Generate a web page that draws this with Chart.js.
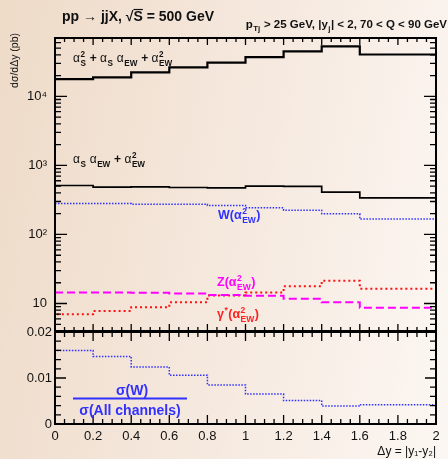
<!DOCTYPE html>
<html>
<head>
<meta charset="utf-8">
<script src="https://cdn.jsdelivr.net/npm/chart.js@4.4.0/dist/chart.umd.min.js"></script>
<style>
html, body { margin: 0; padding: 0; }
body {
  width: 448px; height: 459px; overflow: hidden; position: relative;
  background: linear-gradient(100deg, #eedbc8 0%, #f3e4d7 35%, #f8eee6 70%, #fcf7f3 100%);
}
canvas { position: absolute; left: 0; top: 0; }
</style>
</head>
<body>
<canvas id="top" width="448" height="459"></canvas>
<canvas id="bot" width="448" height="459"></canvas>
<script>
// bin edges in delta y, 10 bins of 0.2
var edges = [0, 0.2, 0.4, 0.6, 0.8, 1.0, 1.2, 1.4, 1.6, 1.8, 2.0];
// d sigma / d delta y (pb)
var allOrders = [17000, 17800, 18800, 22200, 26200, 30700, 37000, 44700, 52800, 40400];
var ewOrders = [500, 512, 484, 489, 479, 473, 501, 496, 410, 339];
var wChannel = [281, 281, 281, 275, 275, 263, 243, 225, 199, 167];
var zChannel = [14.4, 14.4, 14.4, 14.3, 14.0, 13.3, 13.0, 11.7, 10.4, 8.7];
var gammaChannel = [6.3, 7.0, 7.8, 8.8, 10.4, 13.1, 14.4, 17.8, 21.4, 16.4];
// sigma(W) / sigma(all channels)
var wRatio = [0.0169, 0.0160, 0.0147, 0.0124, 0.0106, 0.0085, 0.0065, 0.0051, 0.0039, 0.0042];

var xTicks = [0, 0.2, 0.4, 0.6, 0.8, 1, 1.2, 1.4, 1.6, 1.8, 2];
var logTicks = [10, 100, 1000, 10000];
var logLabels = ['10', '10²', '10³', '10⁴'];
var ratioTicks = [0, 0.01, 0.02];

var FONT = '"Liberation Sans", Arial, Helvetica, sans-serif';
var INK = '#111';
var BLUE = '#3030ff';

function steps(vals) {
  return edges.map(function (e, i) {
    return { x: e, y: vals[Math.min(i, vals.length - 1)] };
  });
}

function fixWidth(s) { s.width = 55; }

// text with ROOT like super/subscripts
function rich(ctx, x, y, parts, size, color, align) {
  var small = size * 0.68;
  var f = function (s, w) { return (w || 'bold') + ' ' + s + 'px ' + FONT; };
  var items = [], total = 0;
  parts.forEach(function (p) {
    if (typeof p === 'string') p = { t: p };
    var w;
    if (p.t !== undefined) {
      ctx.font = f(size, p.w);
      w = ctx.measureText(p.t).width;
    } else {
      ctx.font = f(small);
      w = Math.max(p.sup ? ctx.measureText(p.sup).width : 0, p.sub ? ctx.measureText(p.sub).width : 0) + 1;
    }
    p.width = w;
    items.push(p);
    total += w;
  });
  var cx = align === 'right' ? x - total : align === 'center' ? x - total / 2 : x;
  ctx.fillStyle = color;
  ctx.strokeStyle = color;
  ctx.textAlign = 'left';
  ctx.textBaseline = 'alphabetic';
  items.forEach(function (p) {
    if (p.t !== undefined) {
      ctx.font = f(size, p.w);
      ctx.fillText(p.t, cx, y);
      if (p.over) {
        ctx.lineWidth = 1.2;
        ctx.beginPath();
        ctx.moveTo(cx, y - size * 0.82);
        ctx.lineTo(cx + p.width, y - size * 0.82);
        ctx.stroke();
      }
    } else {
      ctx.font = f(small);
      if (p.sup) ctx.fillText(p.sup, cx + 0.5, y - size * 0.42);
      if (p.sub) ctx.fillText(p.sub, cx + 0.5, y + size * 0.3);
    }
    cx += p.width;
  });
}

function frame(chart, cfg) {
  var ctx = chart.ctx, a = chart.chartArea, xs = chart.scales.x, ys = chart.scales.y;
  ctx.save();
  ctx.strokeStyle = '#000';
  ctx.lineWidth = 1.3;
  ctx.beginPath();
  for (var i = 0; i <= 40; i++) {
    var px = xs.getPixelForValue(i * 0.05);
    var len = i % 4 === 0 ? cfg.xMaj : cfg.xMin;
    ctx.moveTo(px, a.top); ctx.lineTo(px, a.top + len);
    ctx.moveTo(px, a.bottom); ctx.lineTo(px, a.bottom - len);
  }
  cfg.yTicks.forEach(function (t) {
    var py = ys.getPixelForValue(t.v);
    var len = t.major ? cfg.yMaj : cfg.yMin;
    ctx.moveTo(a.left, py); ctx.lineTo(a.left + len, py);
    ctx.moveTo(a.right, py); ctx.lineTo(a.right - len, py);
  });
  ctx.stroke();
  ctx.lineWidth = 2;
  ctx.strokeRect(a.left, a.top, a.right - a.left, a.bottom - a.top);
  ctx.restore();
}

var topYTicks = [];
for (var e = 0; e <= 4; e++) {
  for (var k = 1; k <= 9; k++) {
    var v = k * Math.pow(10, e);
    if (v >= 4 && v <= 70000) topYTicks.push({ v: v, major: k === 1 });
  }
}
var botYTicks = [];
for (var j = 0; j <= 10; j++) botYTicks.push({ v: j * 0.002, major: j % 5 === 0 });

var topPlugin = {
  id: 'topDecor',
  afterDraw: function (chart) {
    frame(chart, { xMaj: 7, xMin: 4, yMaj: 12, yMin: 6, yTicks: topYTicks });
    var ctx = chart.ctx;
    ctx.save();
    rich(ctx, 62, 21, ['pp → jjX, √', { t: 'S', over: true }, ' = 500 GeV'], 14, INK, 'left');
    rich(ctx, 447, 28, ['p', { sub: 'Tj' }, ' > 25 GeV, |y', { sub: 'j' }, '| < 2, 70 < Q < 90 GeV'], 11.5, INK, 'right');
    rich(ctx, 73, 62, [{ t: 'α', w: 'normal' }, { sup: '2', sub: 'S' }, ' + ', { t: 'α', w: 'normal' }, { sub: 'S' }, ' ',
      { t: 'α', w: 'normal' }, { sub: 'EW' }, ' + ', { t: 'α', w: 'normal' }, { sup: '2', sub: 'EW' }], 12, INK, 'left');
    rich(ctx, 73, 163, [{ t: 'α', w: 'normal' }, { sub: 'S' }, ' ', { t: 'α', w: 'normal' }, { sub: 'EW' }, ' + ',
      { t: 'α', w: 'normal' }, { sup: '2', sub: 'EW' }], 12, INK, 'left');
    rich(ctx, 218, 219, ['W(α', { sup: '2', sub: 'EW' }, ')'], 12.5, BLUE, 'left');
    rich(ctx, 217, 286, ['Z(α', { sup: '2', sub: 'EW' }, ')'], 12.5, '#ff00ff', 'left');
    rich(ctx, 217, 318, ['γ', { sup: '*' }, '(α', { sup: '2', sub: 'EW' }, ')'], 12.5, '#ff2020', 'left');
    ctx.translate(18, 33);
    ctx.rotate(-Math.PI / 2);
    ctx.font = '10.5px ' + FONT;
    ctx.fillStyle = INK;
    ctx.textAlign = 'right';
    ctx.textBaseline = 'alphabetic';
    ctx.fillText('dσ/dΔy (pb)', 0, 0);
    ctx.restore();
  }
};

var botPlugin = {
  id: 'botDecor',
  afterDraw: function (chart) {
    frame(chart, { xMaj: 9, xMin: 5, yMaj: 11, yMin: 6, yTicks: botYTicks });
    var ctx = chart.ctx;
    ctx.save();
    rich(ctx, 132, 395, ['σ(W)'], 14, BLUE, 'center');
    ctx.strokeStyle = BLUE;
    ctx.lineWidth = 2;
    ctx.beginPath();
    ctx.moveTo(73, 398.5);
    ctx.lineTo(187, 398.5);
    ctx.stroke();
    rich(ctx, 130, 415, ['σ(All channels)'], 14, BLUE, 'center');
    ctx.restore();
  }
};

function line(vals, color, width, dash) {
  return {
    data: steps(vals), stepped: 'after', borderColor: color, borderWidth: width,
    borderDash: dash, pointRadius: 0, fill: false, borderCapStyle: 'butt'
  };
}

new Chart(document.getElementById('top'), {
  type: 'line',
  data: {
    datasets: [
      line(allOrders, '#000', 2.2, []),
      line(ewOrders, '#000', 1.7, []),
      line(wChannel, BLUE, 1.5, [1.5, 1.5]),
      line(zChannel, '#ff00ff', 2, [8, 4]),
      line(gammaChannel, '#ff1010', 2, [2, 3])
    ]
  },
  options: {
    responsive: false, animation: false, events: [],
    layout: { padding: { left: 0, right: 12, top: 38, bottom: 128 } },
    plugins: { legend: { display: false }, tooltip: { enabled: false } },
    scales: {
      x: { type: 'linear', min: 0, max: 2, display: false },
      y: {
        type: 'logarithmic', min: 4, max: 70000,
        afterFit: fixWidth,
        afterBuildTicks: function (s) { s.ticks = logTicks.map(function (v) { return { value: v }; }); },
        grid: { display: false, drawTicks: false },
        border: { display: false },
        ticks: {
          autoSkip: false, padding: 8, color: INK, font: { family: FONT, size: 13 },
          callback: function (v) { return logLabels[logTicks.indexOf(v)]; }
        }
      }
    }
  },
  plugins: [topPlugin]
});

new Chart(document.getElementById('bot'), {
  type: 'line',
  data: { datasets: [line(wRatio, BLUE, 1.5, [1.5, 1.5])] },
  options: {
    responsive: false, animation: false, events: [],
    layout: { padding: { left: 0, right: 12, top: 332, bottom: 0 } },
    plugins: { legend: { display: false }, tooltip: { enabled: false } },
    scales: {
      x: {
        type: 'linear', min: 0, max: 2,
        afterFit: function (s) { s.height = 35; },
        afterBuildTicks: function (s) { s.ticks = xTicks.map(function (v) { return { value: v }; }); },
        grid: { display: false, drawTicks: false },
        border: { display: false },
        ticks: {
          autoSkip: false, maxRotation: 0, padding: 5, color: INK, font: { family: FONT, size: 13 },
          callback: function (v) { return String(Math.round(v * 10) / 10); }
        },
        title: {
          display: true, text: 'Δy = |y₁-y₂|', align: 'end', color: INK,
          font: { family: FONT, size: 12 }, padding: { top: 0, bottom: 0 }
        }
      },
      y: {
        type: 'linear', min: 0, max: 0.02,
        afterFit: fixWidth,
        afterBuildTicks: function (s) { s.ticks = ratioTicks.map(function (v) { return { value: v }; }); },
        grid: { display: false, drawTicks: false },
        border: { display: false },
        ticks: {
          autoSkip: false, padding: 3, color: INK, font: { family: FONT, size: 13 },
          callback: function (v) { return v === 0 ? '0' : v.toFixed(2); }
        }
      }
    }
  },
  plugins: [botPlugin]
});
</script>
</body>
</html>
